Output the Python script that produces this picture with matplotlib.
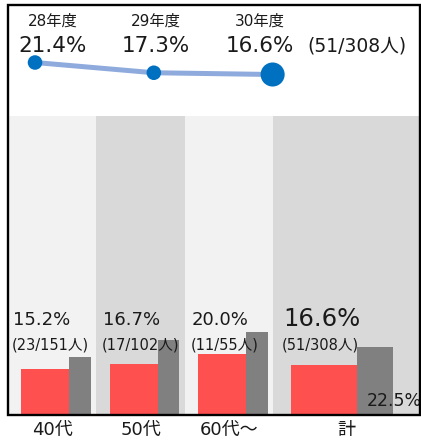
import matplotlib
matplotlib.use("Agg")
import matplotlib.pyplot as plt
from matplotlib.patches import Rectangle

plt.rcParams['font.family'] = ['DejaVu Sans', 'Noto Sans CJK JP']

# ---- data ----
years = ["28年度", "29年度", "30年度"]
year_rates = [21.4, 17.3, 16.6]
year_note = "(51/308人)"

categories = ["40代", "50代", "60代〜", "計"]
current_rates = [15.2, 16.7, 20.0, 16.6]
previous_rates = [19.1, 24.8, 27.5, 22.5]
counts = ["(23/151人)", "(17/102人)", "(11/55人)", "(51/308人)"]

# ---- layout (pixels) ----
W, H = 421, 444
band_widths = [87, 89, 88, 146]
red_offset = [12, 14, 13, 18]
red_w = [48, 48, 48, 66]
gray_w = [22, 21, 22, 36]
label_offset = [4, 7, 7, 10]
band_colors = ["#f2f2f2", "#d9d9d9", "#f2f2f2", "#d9d9d9"]
RED = "#ff5050"
GRAY = "#808080"
TXT = "#1a1a1a"

fig = plt.figure(figsize=(W / 100, H / 100), dpi=100)

def rect(x0, y0, x1, y1):
    return [x0 / W, 1 - y1 / H, (x1 - x0) / W, (y1 - y0) / H]

# ---- bar panel ----
ax = fig.add_axes(rect(9, 116, 419, 414))
edges = [sum(band_widths[:i]) for i in range(len(band_widths))]
total_w = sum(band_widths)
ax.bar(edges, [100] * 4, width=band_widths, align='edge', color=band_colors, zorder=0)
red_x = [e + o for e, o in zip(edges, red_offset)]
gray_x = [r + w for r, w in zip(red_x, red_w)]
ax.bar(red_x, current_rates, width=red_w, align='edge', color=RED, zorder=2)
ax.bar(gray_x, previous_rates, width=gray_w, align='edge', color=GRAY, zorder=2)
ax.set_xlim(0, total_w)
ax.set_ylim(0, 100)
for i in range(4):
    big = (i == 3)
    ax.text(edges[i] + label_offset[i], 32.0 if big else 31.5, f"{current_rates[i]:.1f}%",
            fontsize=17.5 if big else 13, ha='left', va='center', color=TXT, zorder=3)
    ax.text(edges[i] + label_offset[i] - 1, 23.2, counts[i],
            fontsize=10.5, ha='left', va='center', color=TXT, zorder=3)
ax.text(gray_x[3] + 10, 4.4, f"{previous_rates[3]:.1f}%", fontsize=12.5,
        ha='left', va='center', color=TXT, zorder=3, clip_on=False)
centers = [e + w / 2 for e, w in zip(edges, band_widths)]
ax.set_xticks(centers)
ax.set_xticklabels(categories, fontsize=13, color=TXT)
ax.tick_params(axis='x', length=0, pad=5)
ax.set_yticks([])
for s in ax.spines.values():
    s.set_visible(False)

# ---- line panel ----
ax2 = fig.add_axes(rect(9, 6, 419, 116))
xs = list(range(len(years)))
ax2.plot(xs, year_rates, color="#8faadc", lw=3.6, solid_capstyle='butt', zorder=1)
ax2.scatter(xs, year_rates, s=[110, 110, 300], color="#0070c0", zorder=2, linewidths=0)
ax2.set_xlim(-0.219, 3.232)
ax2.set_ylim(0, 44)
ax2.axis('off')

year_lab_x = [53, 156, 260]
for lx, y, r in zip(year_lab_x, years, year_rates):
    fig.text(lx / W, 1 - 21 / H, y, fontsize=11, ha='center', va='center', color=TXT)
    fig.text(lx / W, 1 - 46 / H, f"{r:.1f}%", fontsize=15.5, ha='center', va='center', color=TXT)
fig.text(357 / W, 1 - 46 / H, year_note, fontsize=13.5, ha='center', va='center', color=TXT)

# ---- frame ----
fig.patches.append(Rectangle((8 / W, 1 - 415 / H), 411.5 / W, 409.5 / H,
                             transform=fig.transFigure, fill=False,
                             edgecolor='black', lw=1.7, zorder=10))

fig.savefig("out.png", dpi=100)
